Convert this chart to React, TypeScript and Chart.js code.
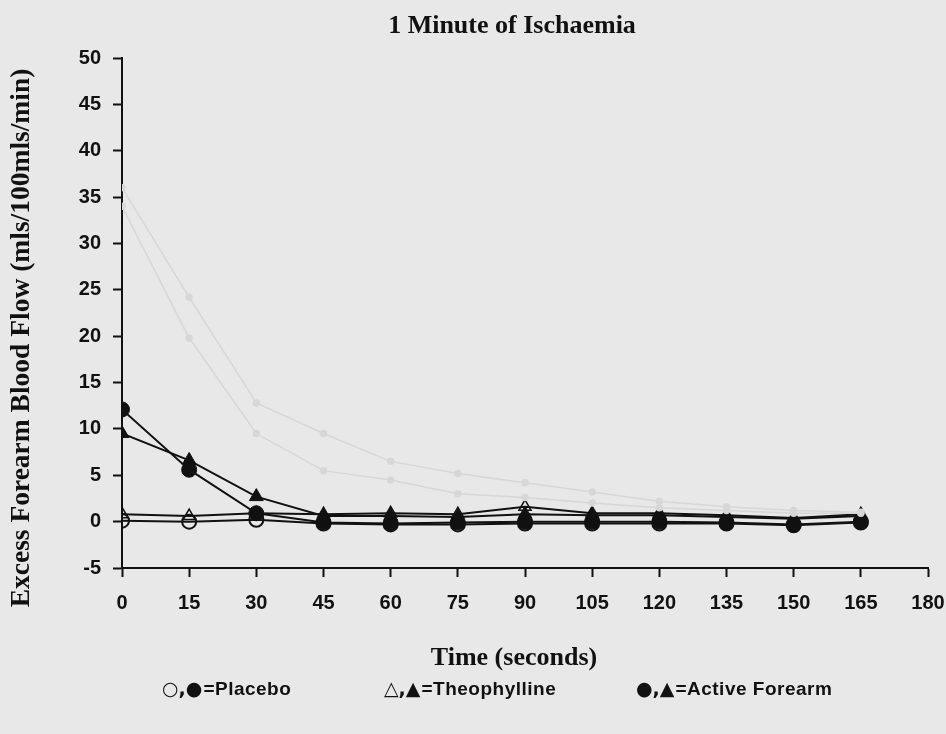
import React, { useEffect, useRef } from "react";
import { Chart, registerables } from "chart.js";

Chart.register(...registerables);

const TITLE = "1 Minute of Ischaemia";
const X_TITLE = "Time (seconds)";
const Y_TITLE = "Excess Forearm Blood Flow (mls/100mls/min)";
const LEGEND_SYMBOLS = ["\u25CB,\u25CF", "\u25B3,\u25B2", "\u25CF,\u25B2"];
const LEGEND_LABELS = ["=Placebo", "=Theophylline", "=Active Forearm"];

const times = [0, 15, 30, 45, 60, 75, 90, 105, 120, 135, 150, 165];

const placeboControl = [0.1, 0.0, 0.2, -0.2, -0.3, -0.3, -0.2, -0.2, -0.2, -0.2, -0.4, -0.1];
const theoControl = [0.8, 0.6, 0.9, 0.8, 0.9, 0.8, 1.6, 0.9, 0.9, 0.7, 0.4, 0.8];
const placeboActive = [12.1, 5.6, 0.9, -0.1, -0.2, -0.1, 0.0, 0.0, 0.0, -0.1, -0.3, 0.0];
const theoActive = [9.5, 6.6, 2.7, 0.6, 0.6, 0.5, 0.8, 0.7, 0.7, 0.5, 0.3, 0.6];
const faintUpper = [36, 24.2, 12.8, 9.5, 6.5, 5.2, 4.2, 3.2, 2.2, 1.6, 1.2, 1.0];
const faintLower = [34, 19.8, 9.5, 5.5, 4.5, 3.0, 2.6, 2.0, 1.5, 1.2, 0.9, 0.9];

const BG = "#e8e8e8";
const INK = "#111111";
const FAINT = "#d7d7d7";

const pts = (ys: number[]) => times.map((t, i) => ({ x: t, y: ys[i] }));

const bgPlugin = {
  id: "bg",
  beforeDraw(chart: any) {
    const { ctx, width, height } = chart;
    ctx.save();
    ctx.fillStyle = BG;
    ctx.fillRect(0, 0, width, height);
    ctx.restore();
  },
};

const textPlugin = {
  id: "texts",
  afterDraw(chart: any) {
    const ctx = chart.ctx;
    ctx.save();
    ctx.fillStyle = INK;
    ctx.textAlign = "center";
    ctx.textBaseline = "middle";
    ctx.font = 'bold 26px "Liberation Serif", "Times New Roman", serif';
    ctx.fillText(TITLE, 512, 26);
    ctx.fillText(X_TITLE, 514, 658);
    ctx.save();
    ctx.translate(22, 338);
    ctx.rotate(-Math.PI / 2);
    ctx.font = 'bold 27.5px "Liberation Serif", "Times New Roman", serif';
    ctx.fillText(Y_TITLE, 0, 0);
    ctx.restore();
    ctx.textAlign = "left";
    const starts = [162, 384, 636];
    LEGEND_SYMBOLS.forEach((sym, i) => {
      ctx.font = 'bold 19px "DejaVu Sans", sans-serif';
      ctx.fillText(sym, starts[i], 690);
      const w = ctx.measureText(sym).width;
      ctx.font = 'bold 19px "Liberation Sans", Arial, sans-serif';
      (ctx as any).letterSpacing = "0.5px";
      ctx.fillText(LEGEND_LABELS[i], starts[i] + w + 1, 690);
      (ctx as any).letterSpacing = "0px";
    });
    ctx.restore();
  },
};

export default function App() {
  const ref = useRef<HTMLCanvasElement | null>(null);
  useEffect(() => {
    document.body.style.margin = "0";
    document.body.style.background = BG;
    const tickFont = { family: '"Liberation Sans", Arial, sans-serif', size: 20, weight: "bold" as const };
    const chart = new Chart(ref.current as HTMLCanvasElement, {
      type: "line",
      data: {
        datasets: [
          { data: pts(faintUpper), borderColor: FAINT, borderWidth: 1.5, pointRadius: 3, pointBackgroundColor: FAINT, pointBorderColor: FAINT, tension: 0 },
          { data: pts(faintLower), borderColor: FAINT, borderWidth: 1.5, pointRadius: 3, pointBackgroundColor: FAINT, pointBorderColor: FAINT, tension: 0 },
          { data: pts(placeboControl), borderColor: INK, borderWidth: 2, pointStyle: "circle", pointRadius: 7, pointBackgroundColor: "rgba(0,0,0,0)", pointBorderColor: INK, pointBorderWidth: 2 },
          { data: pts(theoControl), borderColor: INK, borderWidth: 2, pointStyle: "triangle", pointRadius: 7, pointBackgroundColor: "rgba(0,0,0,0)", pointBorderColor: INK, pointBorderWidth: 1.5 },
          { data: pts(theoActive), borderColor: INK, borderWidth: 2, pointStyle: "triangle", pointRadius: 8, pointBackgroundColor: INK, pointBorderColor: INK, pointBorderWidth: 1 },
          { data: pts(placeboActive), borderColor: INK, borderWidth: 2, pointStyle: "circle", pointRadius: 7.5, pointBackgroundColor: INK, pointBorderColor: INK, pointBorderWidth: 1 },
        ],
      },
      options: {
        animation: false,
        responsive: false,
        layout: { padding: { top: 58, right: 18, left: 0, bottom: 0 } },
        plugins: { legend: { display: false }, tooltip: { enabled: false }, title: { display: false } },
        scales: {
          x: {
            type: "linear",
            min: 0,
            max: 180,
            ticks: { stepSize: 15, font: tickFont, color: INK, padding: 14, maxRotation: 0, autoSkip: false },
            grid: { drawOnChartArea: false, color: INK, tickLength: 9, tickWidth: 2 },
            border: { color: INK, width: 2 },
            afterFit(s: any) { s.height = 166; s.paddingRight = 0; s.paddingLeft = 0; },
          },
          y: {
            min: -5,
            max: 50,
            ticks: { stepSize: 5, font: tickFont, color: INK, padding: 12 },
            grid: { drawOnChartArea: false, color: INK, tickLength: 9, tickWidth: 2 },
            border: { color: INK, width: 2 },
            afterFit(s: any) { s.width = 122; s.paddingTop = 0; s.paddingBottom = 0; },
          },
        },
      },
      plugins: [bgPlugin, textPlugin],
    });
    return () => chart.destroy();
  }, []);
  return (
    <div style={{ position: "absolute", left: 0, top: 0, width: 946, height: 734, background: BG }}>
      <canvas ref={ref} width={946} height={734} style={{ width: 946, height: 734 }} />
    </div>
  );
}
